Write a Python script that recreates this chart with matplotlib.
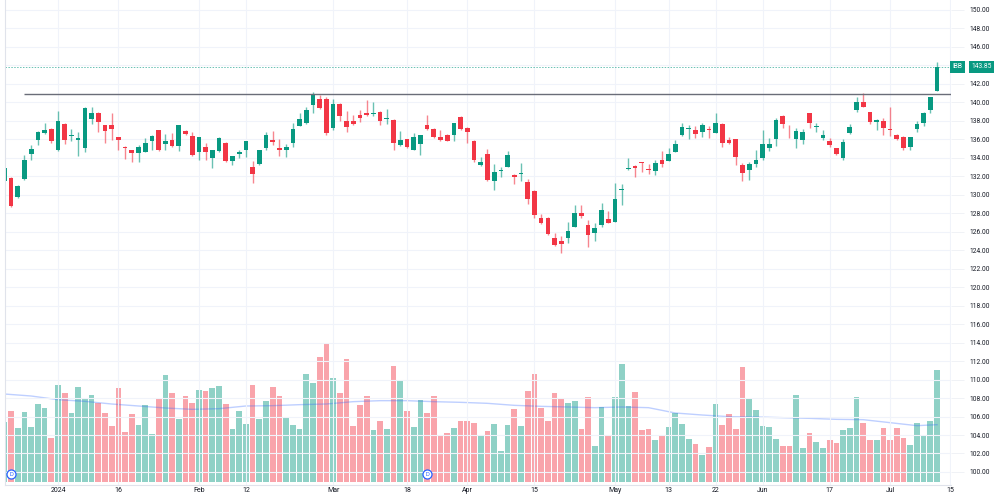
import matplotlib.pyplot as plt
import numpy as np

# IBB daily candles, Dec 19 2023 -> Jul 11 2024 (bar 0 = Jan 2 2024)
first_bar = -8
opens = [131.5, 131.8, 129.8, 131.7, 134.4, 135.9, 136.7, 137.1, 134.9, 137.7,
         136.4, 135.9, 135.1, 138.2, 138.9, 137.5, 137.5, 136.2, 135.1, 134.9,
         134.5, 134.6, 135.8, 137.0, 135.5, 135.9, 135.3, 136.9, 136.4, 134.6,
         135.2, 134.0, 134.7, 135.6, 133.7, 134.4, 134.9, 133.0, 133.3, 135.1,
         135.9, 135.1, 134.8, 135.6, 137.4, 137.8, 139.7, 140.4, 140.4, 137.2,
         139.8, 138.0, 138.0, 138.6, 138.9, 138.7, 139.0, 138.2, 138.1, 135.4,
         136.0, 134.9, 135.5, 137.6, 137.1, 136.2, 136.5, 136.5, 138.4, 137.2,
         135.8, 133.2, 134.4, 131.5, 132.6, 133.0, 132.1, 132.3, 131.4, 130.4,
         127.5, 127.5, 125.3, 125.0, 125.3, 126.5, 128.0, 126.7, 125.9, 126.7,
         127.4, 127.1, 130.55, 132.8, 133.1, 133.4, 132.7, 132.6, 133.8, 133.7,
         134.6, 136.5, 137.15, 137.0, 136.8, 137.0, 136.7, 137.7, 135.9, 136.0,
         133.2, 132.7, 133.3, 134.0, 135.1, 136.0, 138.5, 136.85, 136.0, 135.9,
         138.8, 137.3, 136.1, 135.8, 135.1, 134.0, 136.7, 139.2, 140.0, 139.0,
         137.9, 138.0, 137.05, 136.5, 136.2, 135.2, 137.1, 137.8, 139.2, 141.2]
highs = [133.2, 131.9, 131.1, 134.3, 135.4, 136.9, 137.8, 137.2, 139.1, 137.8,
         137.1, 136.8, 139.5, 139.5, 139.0, 137.6, 138.9, 136.2, 135.3, 134.9,
         135.4, 136.1, 136.5, 137.0, 136.6, 136.7, 137.6, 137.0, 136.8, 136.2,
         135.6, 134.8, 136.2, 135.7, 134.2, 134.9, 135.8, 133.7, 134.9, 136.8,
         136.9, 136.0, 135.5, 137.8, 138.8, 139.5, 141.1, 140.8, 140.6, 140.4,
         139.9, 139.1, 138.6, 139.2, 140.3, 140.0, 139.1, 139.3, 138.2, 136.9,
         136.0, 136.7, 136.5, 138.6, 137.2, 137.0, 136.6, 137.8, 138.5, 137.3,
         135.9, 134.1, 135.0, 133.3, 133.0, 134.7, 132.2, 133.4, 131.7, 130.5,
         127.9, 127.6, 125.9, 125.5, 127.1, 128.9, 128.9, 127.3, 126.9, 129.1,
         128.2, 131.3, 131.2, 134.0, 133.2, 133.6, 133.3, 133.8, 134.7, 135.1,
         135.9, 137.8, 137.5, 137.4, 137.8, 137.4, 138.8, 137.8, 136.2, 136.0,
         133.4, 133.6, 134.9, 137.0, 136.1, 138.3, 138.6, 137.6, 137.2, 137.1,
         138.9, 137.8, 137.0, 136.1, 135.1, 136.0, 137.7, 140.6, 141.0, 139.0,
         138.2, 138.3, 139.5, 136.6, 136.4, 136.3, 138.0, 139.0, 140.6, 144.4]
lows = [131.3, 128.7, 129.7, 131.6, 133.8, 135.4, 136.6, 135.6, 134.7, 135.5,
        135.8, 134.2, 134.6, 137.7, 136.8, 135.6, 135.9, 134.9, 133.9, 133.5,
        133.5, 134.6, 134.9, 134.7, 134.9, 135.2, 134.7, 136.5, 134.2, 133.8,
        133.8, 132.9, 134.6, 133.5, 133.2, 134.0, 134.1, 131.3, 133.2, 134.9,
        135.4, 134.2, 134.1, 135.2, 137.4, 137.7, 138.8, 139.3, 136.5, 137.0,
        138.0, 136.8, 137.5, 137.9, 138.5, 138.5, 137.6, 137.7, 134.8, 135.3,
        135.1, 134.8, 134.3, 137.0, 136.1, 135.8, 135.8, 135.8, 137.0, 135.6,
        133.6, 133.1, 131.5, 130.5, 131.9, 133.0, 131.2, 131.5, 129.0, 127.5,
        126.8, 125.7, 124.5, 123.7, 124.8, 126.5, 127.5, 124.4, 125.0, 126.5,
        126.9, 127.0, 128.9, 132.7, 131.9, 132.5, 132.2, 132.1, 133.0, 133.7,
        134.6, 136.4, 136.0, 136.1, 136.3, 136.1, 136.7, 135.2, 135.5, 133.2,
        131.5, 131.6, 133.0, 133.8, 134.7, 135.3, 137.2, 136.1, 135.1, 135.5,
        137.2, 136.8, 135.9, 135.2, 134.3, 133.8, 136.6, 139.0, 139.5, 137.7,
        137.0, 136.5, 136.4, 135.9, 134.9, 134.8, 136.8, 137.4, 138.8, 141.2]
closes = [132.9, 128.8, 131.0, 133.8, 135.0, 136.8, 137.0, 135.8, 138.0, 135.9,
          136.5, 136.1, 139.4, 138.9, 137.9, 136.9, 137.1, 135.9, 135.0, 134.5,
          135.2, 135.6, 136.4, 134.8, 135.8, 135.3, 137.5, 136.6, 134.3, 136.2,
          134.6, 134.8, 136.1, 133.7, 134.2, 134.6, 135.8, 132.3, 134.8, 136.5,
          135.7, 134.9, 135.2, 137.1, 138.2, 139.2, 140.8, 139.4, 136.7, 139.8,
          138.5, 137.3, 137.7, 138.3, 138.6, 138.8, 138.0, 138.3, 135.6, 135.9,
          135.2, 136.2, 136.5, 137.1, 136.2, 135.9, 135.8, 137.8, 137.1, 136.8,
          133.8, 133.6, 131.6, 132.5, 132.7, 134.3, 131.9, 132.4, 129.5, 127.8,
          126.9, 125.8, 124.6, 124.7, 126.1, 128.0, 127.7, 125.6, 126.4, 128.4,
          126.9, 129.5, 130.6, 132.9, 132.9, 133.3, 132.6, 133.4, 133.3, 134.4,
          135.5, 137.3, 137.2, 136.6, 137.5, 136.9, 137.8, 135.6, 135.6, 134.1,
          132.4, 133.3, 133.8, 135.5, 135.5, 138.1, 137.7, 136.8, 136.9, 136.8,
          137.8, 137.35, 136.5, 135.4, 134.4, 135.7, 137.3, 140.0, 139.5, 137.9,
          138.1, 137.2, 137.0, 136.0, 135.1, 136.2, 137.7, 138.9, 140.6, 143.85]
# volume, thousands of shares
volumes = [890, 1065, 805, 1050, 820, 1170, 1100, 655, 1455, 1335,
           1035, 1425, 1245, 1300, 1180, 1030, 840, 1405, 740, 1020,
           845, 1155, 715, 1245, 1605, 1325, 945, 1285, 1185, 1375,
           1365, 1410, 1440, 1170, 795, 1060, 860, 1450, 945, 1210,
           1425, 1285, 975, 845, 795, 1620, 1475, 1870, 2075, 1550,
           1325, 1835, 840, 1155, 1290, 780, 905, 785, 1740, 1505,
           1065, 820, 1230, 1035, 1290, 705, 730, 805, 915, 915,
           880, 705, 755, 860, 460, 850, 1085, 840, 1365, 1610,
           1110, 915, 1335, 1260, 1185, 1215, 785, 1275, 535, 1115,
           680, 1270, 1765, 1140, 1350, 775, 795, 630, 690, 825,
           1035, 865, 645, 570, 405, 525, 1165, 850, 1010, 785,
           1725, 1245, 1080, 835, 825, 640, 535, 530, 1305, 510,
           735, 595, 505, 625, 580, 770, 800, 1265, 875, 630,
           630, 810, 625, 805, 660, 545, 885, 690, 915, 1680]
# volume moving average read at a few bars
ma_bars = [-8, -4, 0, 4, 8, 12, 16, 20, 24, 28, 32, 36, 40, 44, 48, 52, 56, 60,
           64, 68, 72, 76, 80, 84, 88, 92, 96, 100, 104, 108, 112, 116, 120, 124,
           128, 131]
ma_values = [1315, 1285, 1230, 1205, 1165, 1135, 1105, 1085, 1095, 1135, 1140,
             1155, 1165, 1200, 1215, 1215, 1200, 1190, 1175, 1145, 1130, 1120,
             1110, 1120, 1110, 1030, 1000, 975, 970, 960, 950, 935, 930, 885,
             840, 855]

date_bars = [0, 9, 21, 28, 41, 52, 61, 71, 83, 91, 98, 105, 115, 124, 133]
date_labels = ["2024", "16", "Feb", "12", "Mar", "18", "Apr", "15", "May",
               "13", "22", "Jun", "17", "Jul", "15"]
dividend_bars = [-7, 55]
line_start = -5
line_level = 140.9
ticker = "IBB"
last_price = closes[-1]

green = "#089981"
red = "#f23645"
plt.rcParams['font.family'] = ['Roboto', 'DejaVu Sans']

x = np.arange(first_bar, first_bar + len(opens))
o = np.array(opens)
c = np.array(closes)
up = c >= o
colors = np.where(up, green, red)

fig = plt.figure(figsize=(10, 4.98), dpi=100)
ax = fig.add_axes([0.005, 0.0261, 0.946, 0.9739])
axv = ax.twinx()
ax.set_zorder(axv.get_zorder() + 1)
ax.patch.set_visible(False)

# volume pane
axv.bar(x, volumes, width=0.85, color=colors, alpha=0.45, linewidth=0)
axv.plot(ma_bars, ma_values, color="#2962ff", alpha=0.3, lw=1)
axv.set_ylim(-50, 7225)
axv.set_yticks([])
for s in axv.spines.values():
    s.set_visible(False)

# candles
ax.vlines(x, lows, highs, colors=colors, lw=1, alpha=0.6)
body = c - o
body = np.where(np.abs(body) < 0.1, 0.1, body)
ax.bar(x, body, bottom=o, width=0.7, color=colors, linewidth=0)

ax.hlines(line_level, line_start, 133.08, color="#6a6d78", lw=1.0)
ax.axhline(last_price, color=green, lw=0.7, ls=(0, (1.5, 1.5)), alpha=0.6)

ax.set_xlim(-7.9, 133.08)
ax.set_ylim(98.59, 151.08)
ax.set_axisbelow(True)
ax.grid(color="#f0f3fa", lw=0.8)

ax.set_xticks(date_bars)
ax.set_xticklabels(date_labels)
# the 144.00 label sits under the last price tag
price_ticks = np.arange(100, 151, 2)
ax.set_yticks(price_ticks)
ax.set_yticklabels(["" if v == 144 else f"{v:.2f}" for v in price_ticks])
ax.yaxis.tick_right()
ax.tick_params(axis="x", length=0, pad=1.5, labelsize=5, labelcolor="#131722")
ax.tick_params(axis="y", length=9, width=0.6, color="#eef0f5", pad=4,
               labelsize=4.8, labelcolor="#131722")
for side in ["top", "right"]:
    ax.spines[side].set_visible(False)
for side in ["left", "bottom"]:
    ax.spines[side].set_color("#e0e3eb")
    ax.spines[side].set_linewidth(0.8)

# last price tag
tr = ax.get_yaxis_transform()
ax.text(1.0072, last_price, ticker, transform=tr, fontsize=4.8, color="white",
        ha="center", va="center", clip_on=False,
        bbox=dict(boxstyle="square,pad=0.4", fc=green, ec="none"))
ax.text(1.0322, last_price, f"{last_price:.2f}", transform=tr, fontsize=4.8,
        color="white", ha="center", va="center", clip_on=False,
        bbox=dict(boxstyle="square,pad=0.4", fc=green, ec="none"))

# dividend markers
xt = ax.get_xaxis_transform()
ax.plot(dividend_bars, [0.022] * len(dividend_bars), "o", ms=6.5, mfc="white",
        mec="#2962ff", mew=0.9, transform=xt, clip_on=False)
for b in dividend_bars:
    ax.text(b, 0.022, "D", transform=xt, fontsize=4.2, color="#2962ff",
            ha="center", va="center")

fig.savefig("out.png", dpi=100, facecolor="white")
